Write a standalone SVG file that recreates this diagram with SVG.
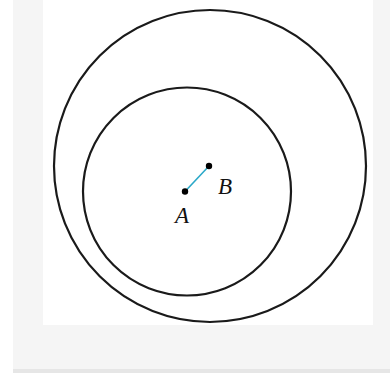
<svg xmlns="http://www.w3.org/2000/svg" width="390" height="373" viewBox="0 0 390 373">
<style>
.circ{fill:none;stroke:#1a1a1a;stroke-width:2.2}
.pt{fill:#000}
.lbl{font-family:"Liberation Serif",serif;font-style:italic;font-size:23px;fill:#111}
</style>
<rect x="0" y="0" width="390" height="373" fill="#ffffff"/>
<rect x="13" y="0" width="377" height="373" fill="#f5f5f5"/>
<rect x="13" y="369" width="377" height="4" fill="#e6e6e6"/>
<rect x="43" y="0" width="330" height="325" fill="#ffffff"/>
<g id="outer-circle"><circle class="circ" cx="210" cy="166" r="156"/></g>
<g id="inner-circle"><circle class="circ" cx="187" cy="191.5" r="104"/></g>
<g id="connectors"><line x1="185" y1="191.5" x2="209" y2="166" stroke="#2aa8c8" stroke-width="1.6"/></g>
<g id="A"><circle class="pt" cx="185" cy="191.5" r="3.2"/><text class="lbl" x="175" y="223">A</text></g>
<g id="B"><circle class="pt" cx="209" cy="166" r="3.2"/><text class="lbl" x="218" y="194">B</text></g>
</svg>
